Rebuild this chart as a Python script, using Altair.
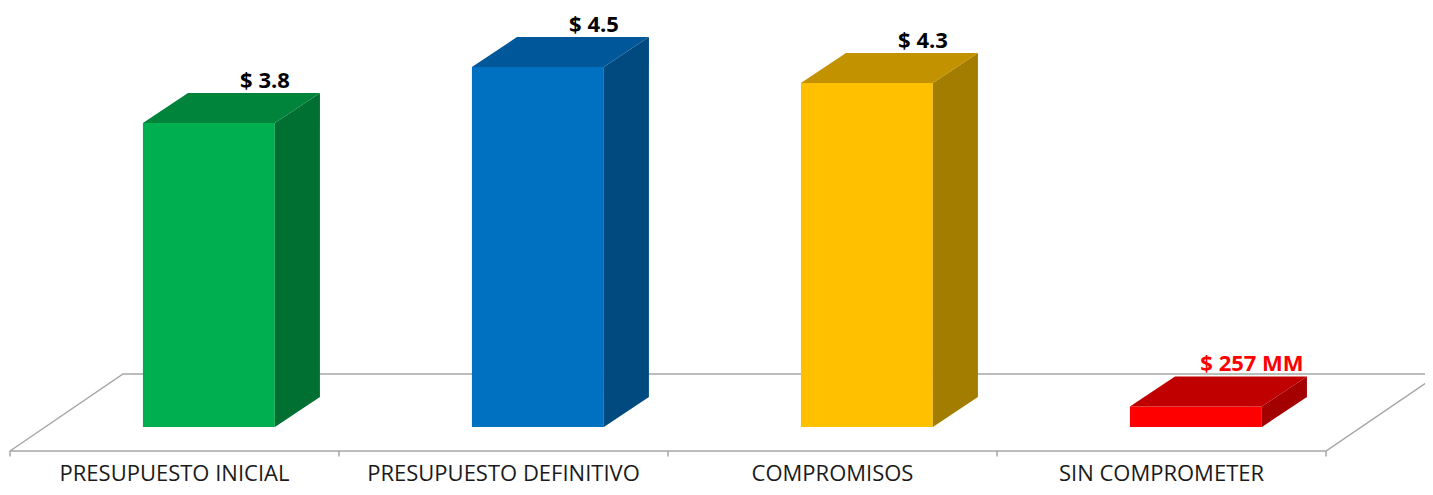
import altair as alt
import pandas as pd

# ---- data ----
categories = ["PRESUPUESTO INICIAL", "PRESUPUESTO DEFINITIVO", "COMPROMISOS", "SIN COMPROMETER"]
values = [3.8, 4.5, 4.3, 0.257]
value_labels = ["$ 3.8", "$ 4.5", "$ 4.3", "$ 257 MM"]
front_colors = ["#00b050", "#0070c0", "#ffc000", "#ff0000"]
top_colors = ["#00843c", "#00589a", "#c29200", "#c00000"]
side_colors = ["#006f32", "#004a80", "#a37d00", "#a50000"]
label_colors = ["#000000", "#000000", "#000000", "#ff0000"]

# ---- 3D geometry (in data units) ----
BAR_L, BAR_R = 0.404, 0.805      # front face within category band
DX, DY = 0.137, 0.375            # depth offset of the bar
FLOOR_FRONT, FLOOR_BACK, FLOOR_DX = -0.3, 0.6625, 0.3435
TICK_LEN = 0.07
LABEL_POS = 0.775

n = len(categories)
front_rows, side_rows, top_rows, text_rows, cat_rows = [], [], [], [], []
for i, (c, v) in enumerate(zip(categories, values)):
    L, R = i + BAR_L, i + BAR_R
    front_rows.append(dict(bar=c, x=L, x2=R, y=0, y2=v, col=front_colors[i]))
    side_rows += [
        dict(bar=c, x=R, y=0, y2=v, col=side_colors[i]),
        dict(bar=c, x=R + DX, y=DY, y2=v + DY, col=side_colors[i]),
    ]
    top_rows += [
        dict(bar=c, x=L, y=v, y2=v, col=top_colors[i]),
        dict(bar=c, x=L + DX, y=v, y2=v + DY, col=top_colors[i]),
        dict(bar=c, x=R, y=v, y2=v + DY, col=top_colors[i]),
        dict(bar=c, x=R + DX, y=v + DY, y2=v + DY, col=top_colors[i]),
    ]
    text_rows.append(dict(x=i + LABEL_POS, y=v + DY, t=value_labels[i], col=label_colors[i]))
    cat_rows.append(dict(x=i + 0.5, y=FLOOR_FRONT, t=c))

floor_rows = [
    dict(o=0, x=0, y=FLOOR_FRONT),
    dict(o=1, x=n, y=FLOOR_FRONT),
    dict(o=2, x=n + FLOOR_DX, y=FLOOR_BACK),
    dict(o=3, x=FLOOR_DX, y=FLOOR_BACK),
    dict(o=4, x=0, y=FLOOR_FRONT),
]
tick_rows = [dict(x=i, y=FLOOR_FRONT, y2=FLOOR_FRONT - TICK_LEN) for i in range(n + 1)]

xs = alt.Scale(domain=[-2 / 329, 1415 / 329], nice=False, zero=False)
ys = alt.Scale(domain=[-0.75, 5.2375], nice=False, zero=False)
X = lambda f="x": alt.X(f"{f}:Q", scale=xs, axis=None)
Y = lambda f="y": alt.Y(f"{f}:Q", scale=ys, axis=None)
GRAY = "#a6a6a6"

floor = alt.Chart(pd.DataFrame(floor_rows)).mark_line(
    color=GRAY, strokeWidth=1.5, clip=True
).encode(x=X(), y=Y(), order="o:Q")

ticks = alt.Chart(pd.DataFrame(tick_rows)).mark_rule(color=GRAY, strokeWidth=1.5).encode(
    x=X(), y=Y(), y2="y2:Q"
)

front = alt.Chart(pd.DataFrame(front_rows)).mark_rect().encode(
    x=X(), x2="x2:Q", y=Y(), y2="y2:Q", color=alt.Color("col:N", scale=None)
)

side = alt.Chart(pd.DataFrame(side_rows)).mark_area(orient="vertical").encode(
    x=X(), y=Y(), y2="y2:Q", detail="bar:N", color=alt.Color("col:N", scale=None)
)

top = alt.Chart(pd.DataFrame(top_rows)).mark_area(orient="vertical").encode(
    x=X(), y=Y(), y2="y2:Q", detail="bar:N", color=alt.Color("col:N", scale=None)
)

vlabels = alt.Chart(pd.DataFrame(text_rows)).mark_text(
    font="Open Sans", fontSize=22, fontWeight="bold", align="center",
    baseline="alphabetic", dy=-5
).encode(x=X(), y=Y(), text="t:N", color=alt.Color("col:N", scale=None))

clabels = alt.Chart(pd.DataFrame(cat_rows)).mark_text(
    font="Open Sans", fontSize=22, align="center", baseline="alphabetic",
    dy=30, color="#1a1a1a"
).encode(x=X(), y=Y(), text="t:N")

chart = alt.layer(floor, ticks, front, side, top, vlabels, clabels).properties(
    width=1417, height=479, autosize=alt.AutoSizeParams(type="none"), padding=0
).configure_view(stroke=None)

chart.save("out.html", embed_options={"renderer": "svg", "actions": False})
